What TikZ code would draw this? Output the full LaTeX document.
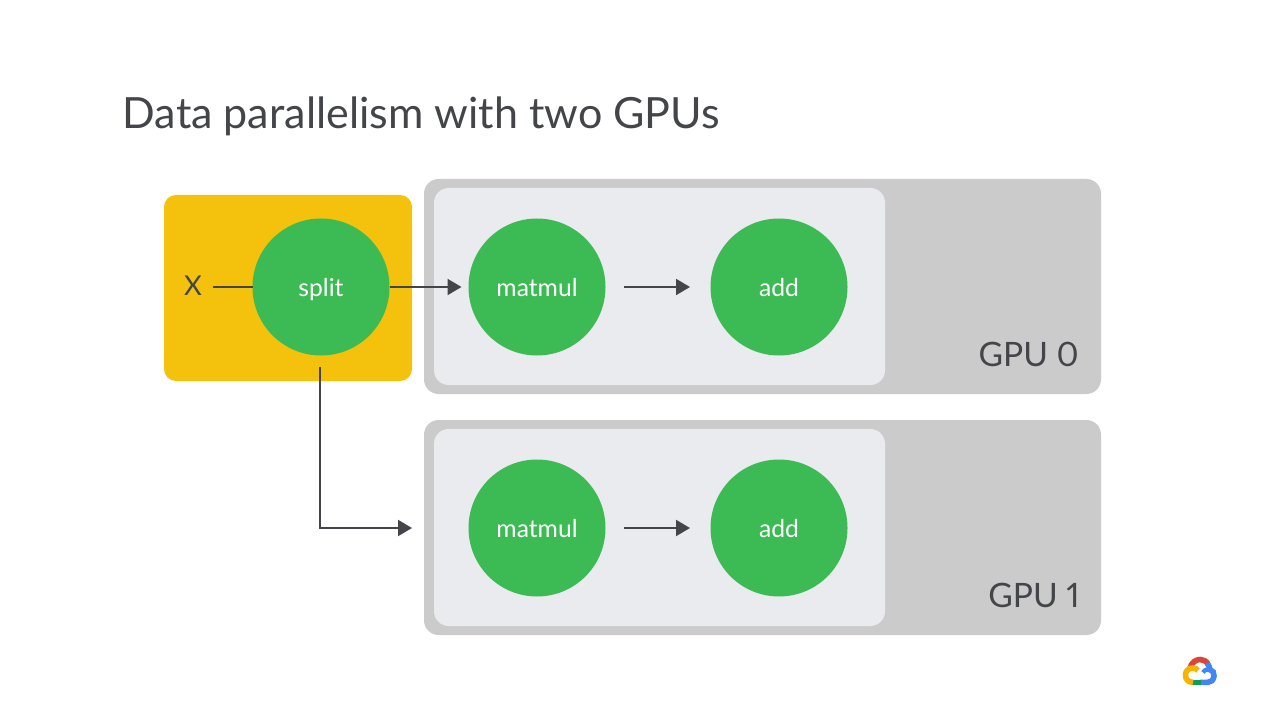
\documentclass[tikz,border=0pt]{standalone}
\usepackage{fontspec}
\setmainfont{Lato}[Numbers=Proportional]
\usetikzlibrary{arrows.meta}
\definecolor{ink}{HTML}{444548}
\definecolor{outerg}{HTML}{CBCBCB}
\definecolor{innerg}{HTML}{EAEBEF}
\definecolor{amber}{HTML}{F4C20D}
\definecolor{opgreen}{HTML}{3CBA54}
\definecolor{gred}{HTML}{DB4437}
\definecolor{gblue}{HTML}{4285F4}
\definecolor{gyellow}{HTML}{F4B400}
\definecolor{ggreen}{HTML}{0F9D58}
\tikzset{
  x=0.75pt,y=-0.75pt,
  opnode/.style={circle,fill=opgreen,minimum size=102.75pt,inner sep=0pt,outer sep=0pt,text=white,text height=13.5pt,text depth=0pt,font=\fontsize{18.5}{20}\selectfont},
  wire/.style={draw=ink,line width=1.5pt},
  arrowwire/.style={wire,-{Triangle[length=10.5pt,width=12pt]}},
  gpulabel/.style={text=ink,font=\fontsize{25.2}{30}\selectfont,anchor=base east,inner sep=0pt},
  logoarc/.style={line width=4.2pt}
}
\begin{document}
\begin{tikzpicture}
\useasboundingbox (0,0) rectangle (1280,720);
\fill[white] (0,0) rectangle (1280,720);
\node[anchor=base west,inner sep=0pt,text=ink,font=\fontsize{32.25}{38}\selectfont] (title) at (122.5,129) {Data parallelism with two GPUs};

% panels
\fill[amber,rounded corners=9pt] (164,195) rectangle (412,381);
\fill[outerg,rounded corners=11pt] (424,179) rectangle (1101,394);
\fill[innerg,rounded corners=11pt] (434,188) rectangle (885,385);
\fill[outerg,rounded corners=11pt] (424,420) rectangle (1101,635);
\fill[innerg,rounded corners=11pt] (434,429) rectangle (885,626);

% nodes
\node[opnode] (split) at (321,287) {split};
\node[opnode] (matA) at (537,287) {matmul};
\node[opnode] (addA) at (779,287) {add};
\node[opnode] (matB) at (537,528) {matmul};
\node[opnode] (addB) at (779,528) {add};
\node[text=ink,font=\fontsize{20.5}{24}\selectfont,inner sep=0pt] (x) at (193,286) {X};
\node[gpulabel] (gpuA) at (1079,366) {GPU 0};
\node[gpulabel] (gpuB) at (1080,607) {GPU 1};

% connector ends
\coordinate (xout) at (213,287);
\coordinate (toA) at (461.5,287);
\coordinate (aout) at (624,287);
\coordinate (ain) at (690,287);
\coordinate (bout) at (624,528);
\coordinate (bin) at (690,528);
\coordinate (down) at (320,367);
\coordinate (toB) at (412,528);

\draw[wire] (xout) -- (split.west);
\draw[arrowwire] (split.east) -- (toA);
\draw[arrowwire] (aout) -- (ain);
\draw[arrowwire] (bout) -- (bin);
\draw[arrowwire] (down) |- (toB);

% cloud logo
\begin{scope}[shift={(1200,671)}]
\draw[logoarc,draw=gred] (-10,-3) .. controls (-8.5,-8.5) and (-4,-11.5) .. (0,-11.5) .. controls (3.5,-11.5) and (6,-10) .. (8,-7);
\draw[logoarc,draw=gblue] (7.3,-8) .. controls (9,-5) and (9.5,-3.5) .. (10,-1.5) .. controls (13,-0.5) and (14.2,2) .. (14,5) .. controls (13.5,9) and (11,11.3) .. (8,11.3) -- (0,11.3);
\draw[logoarc,draw=ggreen] (0.5,11.3) -- (-8,11.3);
\draw[logoarc,draw=gyellow] (-7,11.3) .. controls (-12,11.3) and (-14.5,8) .. (-14.5,4) .. controls (-14.5,-0.5) and (-11,-3) .. (-7.5,-3) .. controls (-5,-3) and (-3,-2) .. (-2,-0.5);
\draw[line width=3.2pt,draw=gblue] (3,1.5) .. controls (4.5,-1.5) and (7.5,-2) .. (10,-1);
\end{scope}
\end{tikzpicture}
\end{document}
